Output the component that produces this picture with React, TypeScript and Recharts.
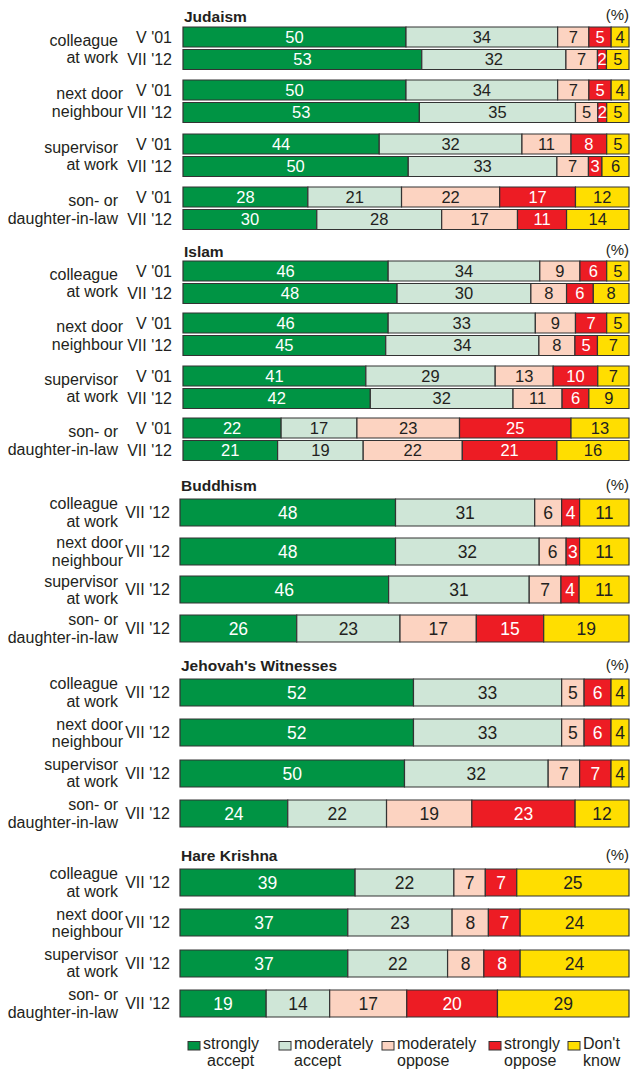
import React from "react";
import { BarChart, Bar, XAxis, YAxis, LabelList } from "recharts";

// answer categories, in stacking order
const ANSWERS = ["strongly accept", "moderately accept", "moderately oppose", "strongly oppose", "Don't know"];
const KEYS = ["sa", "ma", "mo", "so", "dk"];
const COLORS = ["#009444", "#cfe6d7", "#fcd3c1", "#ed1c24", "#ffde00"];
const LABEL_FILL = ["#ffffff", "#231f20", "#231f20", "#ffffff", "#231f20"];

const ITEMS = [
  ["colleague", "at work"],
  ["next door", "neighbour"],
  ["supervisor", "at work"],
  ["son- or", "daughter-in-law"],
];
const WAVES_BOTH = ["V '01", "VII '12"];
const WAVES_2012 = ["VII '12"];

// one row per item and wave: [strongly accept, moderately accept, moderately oppose, strongly oppose, don't know]
const judaism = [
  [50, 34, 7, 5, 4], [53, 32, 7, 2, 5],
  [50, 34, 7, 5, 4], [53, 35, 5, 2, 5],
  [44, 32, 11, 8, 5], [50, 33, 7, 3, 6],
  [28, 21, 22, 17, 12], [30, 28, 17, 11, 14],
];
const islam = [
  [46, 34, 9, 6, 5], [48, 30, 8, 6, 8],
  [46, 33, 9, 7, 5], [45, 34, 8, 5, 7],
  [41, 29, 13, 10, 7], [42, 32, 11, 6, 9],
  [22, 17, 23, 25, 13], [21, 19, 22, 21, 16],
];
const buddhism = [
  [48, 31, 6, 4, 11],
  [48, 32, 6, 3, 11],
  [46, 31, 7, 4, 11],
  [26, 23, 17, 15, 19],
];
const jehovah = [
  [52, 33, 5, 6, 4],
  [52, 33, 5, 6, 4],
  [50, 32, 7, 7, 4],
  [24, 22, 19, 23, 12],
];
const hareKrishna = [
  [39, 22, 7, 7, 25],
  [37, 23, 8, 7, 24],
  [37, 22, 8, 8, 24],
  [19, 14, 17, 20, 29],
];

const FONT = '"Liberation Sans", Arial, Helvetica, sans-serif';
const TEXT = "#231f20";
const ITEM_RIGHT = [118, 123, 118, 118];

type Section = {
  title: string;
  waves: string[];
  values: number[][];
  titleY: number;
  top: number;
  groupPitch: number;
  rowPitch: number;
  barSize: number;
  plotLeft: number;
  tickGap: number;
  labelSize: number;
};

const SECTIONS: Section[] = [
  { title: "Judaism", waves: WAVES_BOTH, values: judaism, titleY: 21.7, top: 27, groupPitch: 53.5, rowPitch: 22.5, barSize: 20, plotLeft: 183, tickGap: 11, labelSize: 16.5 },
  { title: "Islam", waves: WAVES_BOTH, values: islam, titleY: 256.7, top: 261, groupPitch: 52.5, rowPitch: 22.5, barSize: 20, plotLeft: 183, tickGap: 11, labelSize: 16.5 },
  { title: "Buddhism", waves: WAVES_2012, values: buddhism, titleY: 491, top: 497, groupPitch: 38.7, rowPitch: 30, barSize: 30, plotLeft: 180, tickGap: 10, labelSize: 17.5 },
  { title: "Jehovah's Witnesses", waves: WAVES_2012, values: jehovah, titleY: 671, top: 677, groupPitch: 40.3, rowPitch: 30, barSize: 30, plotLeft: 180, tickGap: 10, labelSize: 17.5 },
  { title: "Hare Krishna", waves: WAVES_2012, values: hareKrishna, titleY: 861, top: 867, groupPitch: 40.3, rowPitch: 30, barSize: 30, plotLeft: 180, tickGap: 10, labelSize: 17.5 },
];

const LEGEND_X = [188, 279, 382, 489, 568];

function rowsFor(s: Section, item: number) {
  return s.waves.map((wave, j) => {
    const v = s.values[item * s.waves.length + j];
    const row: Record<string, any> = { wave };
    KEYS.forEach((k, i) => (row[k] = v[i]));
    return row;
  });
}

function GroupChart({ s, item }: { s: Section; item: number }) {
  const data = rowsFor(s, item);
  const pad = (s.rowPitch - s.barSize) / 2;
  const top = s.top + item * s.groupPitch - pad;
  return (
    <div style={{ position: "absolute", left: 0, top }}>
      <BarChart
        width={632}
        height={s.waves.length * s.rowPitch}
        data={data}
        layout="vertical"
        stackOffset="expand"
        barSize={s.barSize}
        margin={{ top: 0, right: 3, bottom: 0, left: 0 }}
      >
        <XAxis type="number" hide domain={[0, 1]} />
        <YAxis
          type="category"
          dataKey="wave"
          width={s.plotLeft}
          axisLine={false}
          tickLine={false}
          tickSize={0}
          tickMargin={s.tickGap}
          interval={0}
          tick={{ fontSize: 16, fill: TEXT, fontFamily: FONT }}
        />
        {KEYS.map((k, i) => (
          <Bar
            key={k}
            dataKey={k}
            name={ANSWERS[i]}
            stackId="a"
            fill={COLORS[i]}
            stroke="#333333"
            strokeWidth={1.2}
            isAnimationActive={false}
          >
            <LabelList
              dataKey={k}
              position="center"
              fill={LABEL_FILL[i]}
              stroke="none"
              fontSize={s.labelSize}
              fontFamily={FONT}
            />
          </Bar>
        ))}
      </BarChart>
    </div>
  );
}

function Captions() {
  return (
    <svg
      width={632}
      height={1073}
      style={{ position: "absolute", left: 0, top: 0, pointerEvents: "none" }}
      fontFamily={FONT}
      fill={TEXT}
    >
      {SECTIONS.map((s) => (
        <g key={s.title}>
          <text x={s.plotLeft + 1} y={s.titleY} fontSize={15.5} fontWeight="bold">
            {s.title}
          </text>
          <text x={629} y={s.titleY - 1.5} fontSize={15} textAnchor="end">
            (%)
          </text>
          {ITEMS.map((lines, i) => {
            const center = s.top + i * s.groupPitch + ((s.waves.length - 1) * s.rowPitch + s.barSize) / 2;
            return (
              <text key={i} x={ITEM_RIGHT[i]} textAnchor="end" fontSize={16}>
                <tspan x={ITEM_RIGHT[i]} y={center - 2.7}>{lines[0]}</tspan>
                <tspan x={ITEM_RIGHT[i]} y={center + 14.8}>{lines[1]}</tspan>
              </text>
            );
          })}
        </g>
      ))}
      {ANSWERS.map((a, i) => {
        const x = LEGEND_X[i];
        const words = a === "Don't know" ? ["Don't", "know"] : a.split(" ");
        return (
          <g key={a}>
            <rect x={x} y={1041.5} width={12} height={8.5} fill={COLORS[i]} stroke="#333333" strokeWidth={1} />
            <text fontSize={16}>
              <tspan x={x + 15} y={1049.3}>{words[0]}</tspan>
              <tspan x={x + 15 + (i === 0 ? 4 : 0)} y={1066}>{words[1]}</tspan>
            </text>
          </g>
        );
      })}
    </svg>
  );
}

export default function App() {
  return (
    <div style={{ position: "absolute", left: 0, top: 0, width: 632, height: 1073, background: "#fff" }}>
      {SECTIONS.map((s) =>
        ITEMS.map((_, i) => <GroupChart key={s.title + i} s={s} item={i} />)
      )}
      <Captions />
    </div>
  );
}
